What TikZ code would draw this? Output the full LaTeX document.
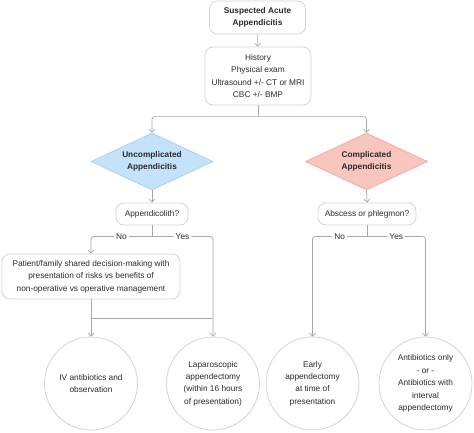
\documentclass[tikz,border=0pt]{standalone}
\usepackage{fontspec}
\setmainfont{Liberation Sans}
\usetikzlibrary{shapes.geometric,arrows.meta}
\definecolor{linegray}{HTML}{A8A8A8}
\definecolor{boxgray}{HTML}{D4D4D4}
\definecolor{uncfill}{HTML}{C4E3FA}
\definecolor{uncline}{HTML}{A6D0F0}
\definecolor{compfill}{HTML}{F9C5BF}
\definecolor{compline}{HTML}{EFA9A1}
\definecolor{txt}{HTML}{2A2A2A}

\begin{document}
\begin{tikzpicture}[x=1pt,y=-1pt,
    every node/.style={font=\fontsize{8.3}{12.4}\selectfont,text=txt,align=center},
    box/.style={draw=boxgray,line width=0.8pt,rounded corners=8pt,fill=white,inner sep=0pt},
    choice/.style={diamond,draw,line width=0.7pt,inner sep=0pt,aspect=2.1},
    outcome/.style={circle,draw=boxgray,line width=0.8pt,fill=white,minimum size=93pt,inner sep=0pt},
    arr/.style={draw=linegray,line width=0.7pt,rounded corners=3pt,-{Straight Barb[length=3pt,width=6pt]}},
    link/.style={draw=linegray,line width=0.7pt,rounded corners=3pt},
    lbl/.style={fill=white,inner sep=2pt}]
    \useasboundingbox (0,0) rectangle (474,433);
    %top
    \node [box,minimum width=96pt,minimum height=33pt] (start) at (257.5,17.5)
        {\textbf{Suspected Acute}\\\textbf{Appendicitis}};
    \node [box,minimum width=106pt,minimum height=58pt] (hist) at (258,76)
        {History\\Physical exam\\Ultrasound +/- CT or MRI\\CBC +/- BMP};
    %diamonds
    \node [choice,fill=uncfill,draw=uncline,minimum width=122pt,minimum height=57pt] (unc) at (152,161.5)
        {\textbf{Uncomplicated}\\\textbf{Appendicitis}};
    \node [choice,fill=compfill,draw=compline,minimum width=122pt,minimum height=57pt] (comp) at (366.5,161.5)
        {\textbf{Complicated}\\\textbf{Appendicitis}};
    %questions
    \node [box,minimum width=72pt,minimum height=22pt] (appq) at (152,214) {Appendicolith?};
    \node [box,minimum width=98pt,minimum height=22pt] (absq) at (367,214) {Abscess or phlegmon?};
    \node [box,minimum width=178pt,minimum height=45pt] (pat) at (91,276.5)
        {Patient/family shared decision-making with\\presentation of risks vs benefits of\\non-operative vs operative management};
    %outcomes
    \node [outcome] (iv) at (91,383.5) {IV antibiotics and\\observation};
    \node [outcome] (lap) at (213,383.5) {Laparoscopic\\appendectomy\\(within 16 hours\\of presentation)};
    \node [outcome] (early) at (312.5,383.5) {Early\\appendectomy\\at time of\\presentation};
    \node [outcome] (anti) at (425.5,383.5) {Antibiotics only\\- or -\\Antibiotics with\\interval\\appendectomy};

    %forks
    \coordinate (histfork) at ([yshift=-11pt]hist.south);
    \coordinate (appfork) at ([yshift=-11pt]appq.south);
    \coordinate (absfork) at ([yshift=-11pt]absq.south);
    \coordinate (patfork) at ([yshift=-19pt]pat.south);

    %connectors
    \draw [arr] (start) -- (hist);
    \draw [link] (hist.south) -- (histfork);
    \draw [arr] (histfork) -| (unc.north);
    \draw [arr] (histfork) -| (comp.north);
    \draw [arr] (unc.south) -- (appq.north);
    \draw [arr] (comp.south) -- (absq.north);
    \draw [link] (appq.south) -- (appfork);
    \draw [arr] (appfork) -- node[lbl]{No} (appfork -| pat.north) -- (pat.north);
    \draw [arr] (appfork) -- node[lbl]{Yes} (appfork -| lap.north) -- (lap.north);
    \draw [arr] (pat.south) -- (iv.north);
    \draw [link] (patfork) -- (patfork -| lap.north);
    \draw [link] (absq.south) -- (absfork);
    \draw [arr] (absfork) -- node[lbl]{No} (absfork -| early.north) -- (early.north);
    \draw [arr] (absfork) -- node[lbl]{Yes} (absfork -| anti.north) -- (anti.north);
\end{tikzpicture}
\end{document}
